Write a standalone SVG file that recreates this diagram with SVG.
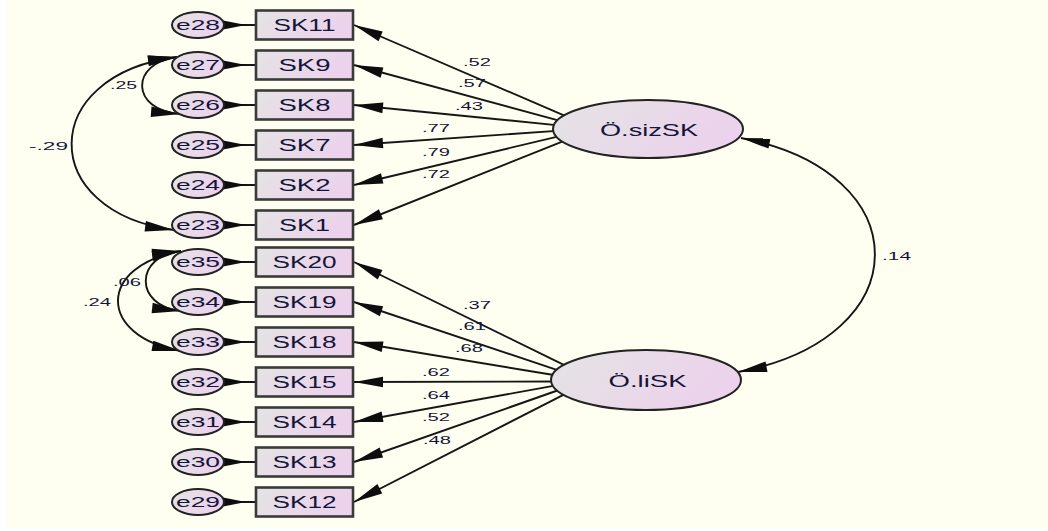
<svg xmlns="http://www.w3.org/2000/svg" width="1048" height="531" viewBox="0 0 1048 531">
<defs>
<style>
.ind{stroke:#3a3a3a;stroke-width:2.6;fill:url(#gr)}
.err{stroke:#222;stroke-width:2;fill:url(#gr)}
.lat{stroke:#222;stroke-width:2;fill:url(#gr)}
.t{font-family:"Liberation Sans",Arial,sans-serif;fill:#15153a;text-anchor:middle}
.ti{font-size:16px}
.te{font-size:15px}
.tl{font-size:17px}
.lb{font-family:"Liberation Sans",Arial,sans-serif;font-size:11.5px;fill:#15153a}
.ln{stroke:#161616;stroke-width:1.9;fill:none}
.ld{marker-end:url(#ah)}
.ew{marker-start:url(#wd)}
.cv{marker-start:url(#ah);marker-end:url(#ah)}
</style>
<linearGradient id="gr" x1="0" y1="0" x2="1" y2="0.3">
<stop offset="0" stop-color="#e4e4e4"/>
<stop offset="1" stop-color="#ecd2ec"/>
</linearGradient>
<marker id="ah" markerUnits="userSpaceOnUse" markerWidth="34" markerHeight="14" viewBox="-32 -7 34 14" refX="0" refY="0" orient="auto-start-reverse">
<path d="M0,0 L-29,-5.3 L-29,5.3 Z" fill="#0d0d0d"/>
</marker>
<marker id="wd" markerUnits="userSpaceOnUse" markerWidth="26" markerHeight="12" viewBox="-1 -6 26 12" refX="0" refY="0" orient="auto">
<path d="M0,-4.6 L23,0 L0,4.6 Z" fill="#0d0d0d"/>
</marker>
</defs>
<rect x="0" y="0" width="1048" height="531" fill="#ffffff"/>
<rect x="6" y="0" width="1042" height="528" fill="#FEFFF0"/>

<g id="connectors">
<path class="ln ew" d="M223,25 L256,25"/>
<path class="ln ew" d="M223,65 L256,65"/>
<path class="ln ew" d="M223,105 L256,105"/>
<path class="ln ew" d="M223,145 L256,145"/>
<path class="ln ew" d="M223,185 L256,185"/>
<path class="ln ew" d="M223,225 L256,225"/>
<path class="ln ew" d="M223,262 L256,262"/>
<path class="ln ew" d="M223,302 L256,302"/>
<path class="ln ew" d="M223,342 L256,342"/>
<path class="ln ew" d="M223,382 L256,382"/>
<path class="ln ew" d="M223,422 L256,422"/>
<path class="ln ew" d="M223,462 L256,462"/>
<path class="ln ew" d="M223,502 L256,502"/>
<path class="ln ld" d="M568.5,117.4 L354,25"/>
<path class="ln ld" d="M562.8,121.6 L354,65"/>
<path class="ln ld" d="M561,125.6 L354,105"/>
<path class="ln ld" d="M560,130.6 L354,145"/>
<path class="ln ld" d="M561.8,135.6 L354,185"/>
<path class="ln ld" d="M566.6,139.8 L354,225"/>
<path class="ln ld" d="M567.4,366.6 L354,262"/>
<path class="ln ld" d="M562.7,371.9 L354,302"/>
<path class="ln ld" d="M559.9,376 L354,342"/>
<path class="ln ld" d="M558,381.5 L354,382"/>
<path class="ln ld" d="M558.9,384.9 L354,422"/>
<path class="ln ld" d="M561.7,389 L354,462"/>
<path class="ln ld" d="M566.3,393.3 L354,502"/>
<path class="ln cv" d="M177,57 C130,63 130,110 180,114"/>
<path class="ln cv" d="M177,57 C37,75 37,212 174,230"/>
<path class="ln cv" d="M181,251 C134,256 134,306 181,311"/>
<path class="ln cv" d="M181,251 C97,266 97,336 181,351"/>
<path class="ln cv" d="M741,138 C920,172 920,338 738,372"/>
<text class="lb" x="463" y="66" textLength="28" lengthAdjust="spacingAndGlyphs">.52</text>
<text class="lb" x="458" y="87" textLength="28" lengthAdjust="spacingAndGlyphs">.57</text>
<text class="lb" x="455" y="110" textLength="28" lengthAdjust="spacingAndGlyphs">.43</text>
<text class="lb" x="422" y="132" textLength="28" lengthAdjust="spacingAndGlyphs">.77</text>
<text class="lb" x="422" y="156" textLength="28" lengthAdjust="spacingAndGlyphs">.79</text>
<text class="lb" x="422" y="178" textLength="28" lengthAdjust="spacingAndGlyphs">.72</text>
<text class="lb" x="463" y="309" textLength="28" lengthAdjust="spacingAndGlyphs">.37</text>
<text class="lb" x="458" y="330" textLength="28" lengthAdjust="spacingAndGlyphs">.61</text>
<text class="lb" x="455" y="352" textLength="28" lengthAdjust="spacingAndGlyphs">.68</text>
<text class="lb" x="422" y="376" textLength="28" lengthAdjust="spacingAndGlyphs">.62</text>
<text class="lb" x="422" y="399" textLength="28" lengthAdjust="spacingAndGlyphs">.64</text>
<text class="lb" x="422" y="421" textLength="28" lengthAdjust="spacingAndGlyphs">.52</text>
<text class="lb" x="423" y="444" textLength="28" lengthAdjust="spacingAndGlyphs">.48</text>
<text class="lb" x="110" y="89" textLength="27" lengthAdjust="spacingAndGlyphs">.25</text>
<text class="lb" x="29" y="150" textLength="39" lengthAdjust="spacingAndGlyphs">-.29</text>
<text class="lb" x="113" y="286" textLength="28" lengthAdjust="spacingAndGlyphs">.06</text>
<text class="lb" x="83" y="306" textLength="28" lengthAdjust="spacingAndGlyphs">.24</text>
<text class="lb" x="882" y="260" textLength="29" lengthAdjust="spacingAndGlyphs">.14</text>
</g>

<g id="OsizSK"><ellipse class="lat" cx="648" cy="129" rx="95" ry="29"/><text class="t tl" x="649" y="136" textLength="98" lengthAdjust="spacingAndGlyphs">Ö.sizSK</text></g>
<g id="OliSK"><ellipse class="lat" cx="646" cy="380" rx="95" ry="30"/><text class="t tl" x="647.5" y="387" textLength="78" lengthAdjust="spacingAndGlyphs">Ö.liSK</text></g>

<g id="SK11"><rect class="ind" x="256" y="10.5" width="97" height="29"/><text class="t ti" x="304.5" y="30.8" textLength="62" lengthAdjust="spacingAndGlyphs">SK11</text></g>
<g id="SK9"><rect class="ind" x="256" y="50.5" width="97" height="29"/><text class="t ti" x="304.5" y="70.8" textLength="52" lengthAdjust="spacingAndGlyphs">SK9</text></g>
<g id="SK8"><rect class="ind" x="256" y="90.5" width="97" height="29"/><text class="t ti" x="304.5" y="110.8" textLength="52" lengthAdjust="spacingAndGlyphs">SK8</text></g>
<g id="SK7"><rect class="ind" x="256" y="130.5" width="97" height="29"/><text class="t ti" x="304.5" y="150.8" textLength="52" lengthAdjust="spacingAndGlyphs">SK7</text></g>
<g id="SK2"><rect class="ind" x="256" y="170.5" width="97" height="29"/><text class="t ti" x="304.5" y="190.8" textLength="52" lengthAdjust="spacingAndGlyphs">SK2</text></g>
<g id="SK1"><rect class="ind" x="256" y="210.5" width="97" height="29"/><text class="t ti" x="304.5" y="230.8" textLength="51" lengthAdjust="spacingAndGlyphs">SK1</text></g>
<g id="SK20"><rect class="ind" x="256" y="247.5" width="97" height="29"/><text class="t ti" x="304.5" y="267.8" textLength="64" lengthAdjust="spacingAndGlyphs">SK20</text></g>
<g id="SK19"><rect class="ind" x="256" y="287.5" width="97" height="29"/><text class="t ti" x="304.5" y="307.8" textLength="64" lengthAdjust="spacingAndGlyphs">SK19</text></g>
<g id="SK18"><rect class="ind" x="256" y="327.5" width="97" height="29"/><text class="t ti" x="304.5" y="347.8" textLength="64" lengthAdjust="spacingAndGlyphs">SK18</text></g>
<g id="SK15"><rect class="ind" x="256" y="367.5" width="97" height="29"/><text class="t ti" x="304.5" y="387.8" textLength="64" lengthAdjust="spacingAndGlyphs">SK15</text></g>
<g id="SK14"><rect class="ind" x="256" y="407.5" width="97" height="29"/><text class="t ti" x="304.5" y="427.8" textLength="64" lengthAdjust="spacingAndGlyphs">SK14</text></g>
<g id="SK13"><rect class="ind" x="256" y="447.5" width="97" height="29"/><text class="t ti" x="304.5" y="467.8" textLength="64" lengthAdjust="spacingAndGlyphs">SK13</text></g>
<g id="SK12"><rect class="ind" x="256" y="487.5" width="97" height="29"/><text class="t ti" x="304.5" y="507.8" textLength="64" lengthAdjust="spacingAndGlyphs">SK12</text></g>

<g id="e28"><ellipse class="err" cx="198" cy="25" rx="26" ry="13"/><text class="t te" x="198" y="30.3" textLength="44" lengthAdjust="spacingAndGlyphs">e28</text></g>
<g id="e27"><ellipse class="err" cx="198" cy="65" rx="26" ry="13"/><text class="t te" x="198" y="70.3" textLength="44" lengthAdjust="spacingAndGlyphs">e27</text></g>
<g id="e26"><ellipse class="err" cx="198" cy="105" rx="26" ry="13"/><text class="t te" x="198" y="110.3" textLength="44" lengthAdjust="spacingAndGlyphs">e26</text></g>
<g id="e25"><ellipse class="err" cx="198" cy="145" rx="26" ry="13"/><text class="t te" x="198" y="150.3" textLength="44" lengthAdjust="spacingAndGlyphs">e25</text></g>
<g id="e24"><ellipse class="err" cx="198" cy="185" rx="26" ry="13"/><text class="t te" x="198" y="190.3" textLength="44" lengthAdjust="spacingAndGlyphs">e24</text></g>
<g id="e23"><ellipse class="err" cx="198" cy="225" rx="26" ry="13"/><text class="t te" x="198" y="230.3" textLength="44" lengthAdjust="spacingAndGlyphs">e23</text></g>
<g id="e35"><ellipse class="err" cx="198" cy="262" rx="26" ry="13"/><text class="t te" x="198" y="267.3" textLength="44" lengthAdjust="spacingAndGlyphs">e35</text></g>
<g id="e34"><ellipse class="err" cx="198" cy="302" rx="26" ry="13"/><text class="t te" x="198" y="307.3" textLength="44" lengthAdjust="spacingAndGlyphs">e34</text></g>
<g id="e33"><ellipse class="err" cx="198" cy="342" rx="26" ry="13"/><text class="t te" x="198" y="347.3" textLength="44" lengthAdjust="spacingAndGlyphs">e33</text></g>
<g id="e32"><ellipse class="err" cx="198" cy="382" rx="26" ry="13"/><text class="t te" x="198" y="387.3" textLength="44" lengthAdjust="spacingAndGlyphs">e32</text></g>
<g id="e31"><ellipse class="err" cx="198" cy="422" rx="26" ry="13"/><text class="t te" x="198" y="427.3" textLength="44" lengthAdjust="spacingAndGlyphs">e31</text></g>
<g id="e30"><ellipse class="err" cx="198" cy="462" rx="26" ry="13"/><text class="t te" x="198" y="467.3" textLength="44" lengthAdjust="spacingAndGlyphs">e30</text></g>
<g id="e29"><ellipse class="err" cx="198" cy="502" rx="26" ry="13"/><text class="t te" x="198" y="507.3" textLength="44" lengthAdjust="spacingAndGlyphs">e29</text></g>
</svg>
